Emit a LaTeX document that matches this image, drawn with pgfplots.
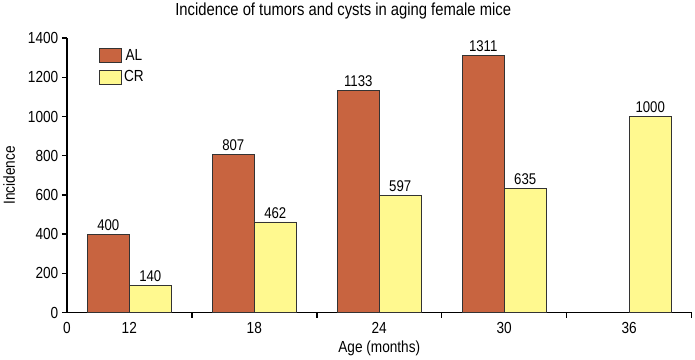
\documentclass[border=0pt]{standalone}
\usepackage{fontspec}
\setmainfont{Liberation Sans}[FakeStretch=0.85]
\usepackage{pgfplots}
\pgfplotsset{compat=1.18}
\definecolor{alc}{HTML}{C86440}
\definecolor{crc}{HTML}{FFF98F}
\begin{document}
\begin{tikzpicture}
\begin{axis}[
  scale only axis, width=624pt, height=274pt,
  xmin=0, xmax=5, ymin=0, ymax=1400,
  axis x line*=bottom, axis y line*=left,
  axis line style={line width=1.5pt, -},
  ytick={0,200,...,1400},
  xtick={1,2,3,4,5}, xticklabels={},
  extra x ticks={0,0.5,1.5,2.5,3.5,4.5},
  extra x tick labels={0,12,18,24,30,36},
  extra x tick style={major tick length=0pt},
  tick align=outside, major tick length=5pt,
  tick style={line width=1.5pt, black},
  /pgf/number format/assume math mode=true,
  /pgf/number format/1000 sep={},
  tick label style={font=\fontsize{16}{18}\selectfont},
  x tick label style={yshift=-6pt},
  ylabel={Incidence}, xlabel={Age (months)},
  label style={font=\fontsize{16}{18}\selectfont},
  ylabel style={yshift=6pt},
  xlabel style={yshift=4pt},
  title={Incidence of tumors and cysts in aging female mice},
  title style={font=\fontsize{17.4}{19}\selectfont, yshift=9pt, xshift=-36pt},
  ybar, bar width=0.336,
  nodes near coords,
  every node near coord/.append style={font=\fontsize{15.5}{17}\selectfont, black},
  legend style={at={(axis cs:0.235,1365)}, anchor=north west, draw=none, fill=none,
    font=\fontsize{16}{18}\selectfont, row sep=5pt},
  legend image code/.code={\draw[#1] (0pt,-7pt) rectangle (22pt,7pt);},
]
\addplot[fill=alc, draw=black!80, line width=0.6pt, bar shift=-0.168]
  coordinates {(0.5,400) (1.5,807) (2.5,1133) (3.5,1311)};
\addplot[fill=crc, draw=black!80, line width=0.6pt, bar shift=0.168]
  coordinates {(0.5,140) (1.5,462) (2.5,597) (3.5,635) (4.5,1000)};
\legend{AL,CR}
\end{axis}
\end{tikzpicture}
\end{document}
